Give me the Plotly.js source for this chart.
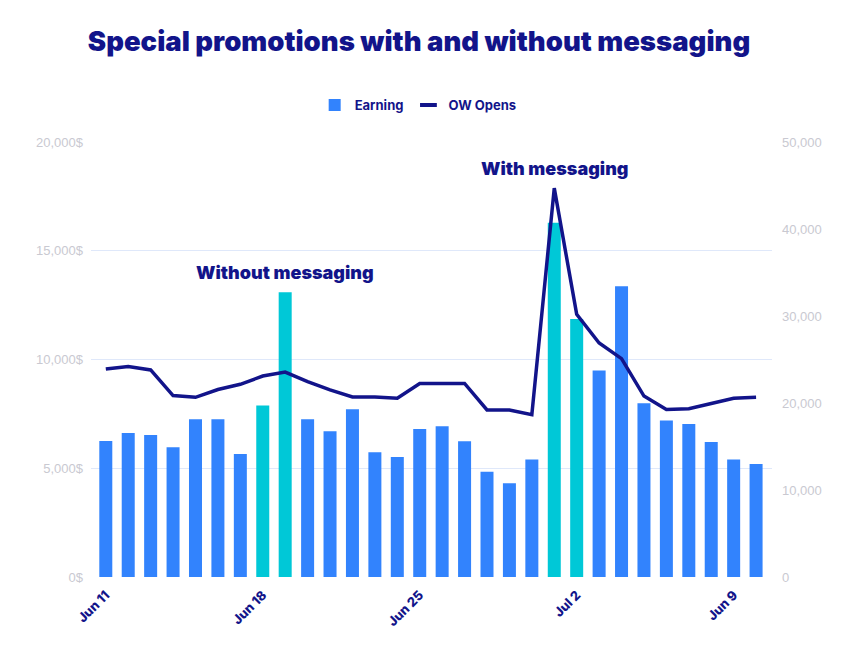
<!DOCTYPE html>
<html>
<head>
<meta charset="utf-8">
<script src="https://cdn.plot.ly/plotly-3.0.1.min.js"></script>
<style>
  html, body { margin: 0; padding: 0; background: #ffffff; }
  #chart { width: 864px; height: 648px; }
</style>
</head>
<body>
<div id="chart"></div>
<script>
// Daily categories
const days = [
  'Jun 11', 'Jun 12', 'Jun 13', 'Jun 14', 'Jun 15', 'Jun 16', 'Jun 17',
  'Jun 18', 'Jun 19', 'Jun 20', 'Jun 21', 'Jun 22', 'Jun 23', 'Jun 24',
  'Jun 25', 'Jun 26', 'Jun 27', 'Jun 28', 'Jun 29', 'Jun 30', 'Jul 1',
  'Jul 2', 'Jul 3', 'Jul 4', 'Jul 5', 'Jul 6', 'Jul 7', 'Jul 8',
  'Jul 9', 'Jul 10'
];

// Earnings per day ($)
const earning = [
  6250, 6620, 6530, 5960, 7250, 7250, 5660,
  7890, 13090, 7250, 6700, 7710, 5730, 5520,
  6800, 6930, 6240, 4840, 4310, 5400, 16290,
  11860, 9490, 13370, 7990, 7190, 7040, 6210,
  5400, 5200
];

// OW opens per day
const owOpens = [
  23900, 24200, 23800, 20850, 20650, 21550, 22150,
  23100, 23550, 22450, 21500, 20700, 20700, 20550,
  22250, 22250, 22250, 19200, 19200, 18650, 44700,
  30200, 26900, 25100, 20800, 19250, 19350, 19950,
  20550, 20650
];

// Promotion days (highlighted bars)
const promoDays = ['Jun 18', 'Jun 19', 'Jul 1', 'Jul 2'];

// Axis tick labels
const tickDays = ['Jun 11', 'Jun 18', 'Jun 25', 'Jul 2', 'Jul 9'];
const tickLabels = ['Jun 11', 'Jun 18', 'Jun 25', 'Jul 2', 'Jun 9'];
const earningTicks = [0, 5000, 10000, 15000, 20000];
const earningTickLabels = ['0$', '5,000$', '10,000$', '15,000$', '20,000$'];
const opensTicks = [0, 10000, 20000, 30000, 40000, 50000];

const NAVY = '#12148a';
const BLUE = '#3283fd';
const CYAN = '#00c8d7';
const GRID = '#dfe8fa';
const MUTED = '#c9c9d1';
const FONT = 'Inter, "Noto Sans", sans-serif';
const TICK_FONT = '"Liberation Sans", Arial, sans-serif';

const barColors = days.map(d => promoDays.includes(d) ? CYAN : BLUE);

const traces = [
  {
    type: 'bar',
    name: 'Earning',
    x: days,
    y: earning,
    marker: { color: barColors, line: { width: 0 } },
    yaxis: 'y'
  },
  {
    type: 'scatter',
    mode: 'lines',
    name: 'OW Opens',
    x: days,
    y: owOpens,
    line: { color: NAVY, width: 3.5 },
    yaxis: 'y2',
    showlegend: false
  },
  // legend key for the opens line: a short dash instead of the long line sample
  {
    type: 'scatter',
    mode: 'markers',
    name: 'OW Opens',
    x: [null],
    y: [null],
    yaxis: 'y2',
    marker: { symbol: 'line-ew', size: 12, line: { color: NAVY, width: 4 }, color: NAVY }
  }
];

const layout = {
  width: 864,
  height: 648,
  paper_bgcolor: '#ffffff',
  plot_bgcolor: '#ffffff',
  margin: { l: 91, r: 92, t: 142, b: 71 },
  font: { family: FONT, color: NAVY },
  title: {
    text: 'Special promotions with and without messaging',
    font: { family: FONT, size: 27.5, color: NAVY, weight: 900 },
    xref: 'container', x: 0.485, xanchor: 'center',
    yref: 'container', y: 1 - 41 / 648, yanchor: 'middle'
  },
  showlegend: true,
  legend: {
    orientation: 'h',
    xref: 'container', x: 0.484, xanchor: 'center',
    yref: 'container', y: 1 - 105 / 648, yanchor: 'middle',
    font: { family: FONT, size: 13, color: NAVY, weight: 700 },
    traceorder: 'normal'
  },
  bargap: 0.42,
  xaxis: {
    type: 'category',
    range: [-0.66, 29.71],
    tickmode: 'array',
    tickvals: tickDays,
    ticktext: tickLabels,
    tickangle: -45,
    tickfont: { family: FONT, size: 13, color: NAVY, weight: 800 },
    ticklabelstandoff: 7,
    showgrid: false,
    showline: false,
    zeroline: false,
    ticks: ''
  },
  yaxis: {
    range: [0, 20000],
    tickmode: 'array',
    tickvals: earningTicks,
    ticktext: earningTickLabels,
    tickfont: { family: TICK_FONT, size: 13, color: MUTED },
    showgrid: true,
    gridcolor: GRID,
    gridwidth: 1,
    zeroline: false,
    showline: false,
    ticks: '',
    ticklabelstandoff: 7
  },
  yaxis2: {
    overlaying: 'y',
    side: 'right',
    range: [0, 50000],
    tickmode: 'array',
    tickvals: opensTicks,
    tickformat: ',',
    tickfont: { family: TICK_FONT, size: 13, color: MUTED },
    showgrid: false,
    zeroline: false,
    showline: false,
    ticks: '',
    ticklabelstandoff: 9
  },
  annotations: [
    {
      text: 'Without messaging',
      xref: 'x', x: 'Jun 19',
      yref: 'y', y: 13980,
      yanchor: 'middle',
      showarrow: false,
      font: { family: FONT, size: 18, color: NAVY, weight: 900 }
    },
    {
      text: 'With messaging',
      xref: 'x', x: 'Jul 1',
      yref: 'y', y: 18800,
      yanchor: 'middle',
      showarrow: false,
      font: { family: FONT, size: 18, color: NAVY, weight: 900 }
    }
  ]
};

Plotly.newPlot('chart', traces, layout, { displayModeBar: false, staticPlot: true });
</script>
</body>
</html>
